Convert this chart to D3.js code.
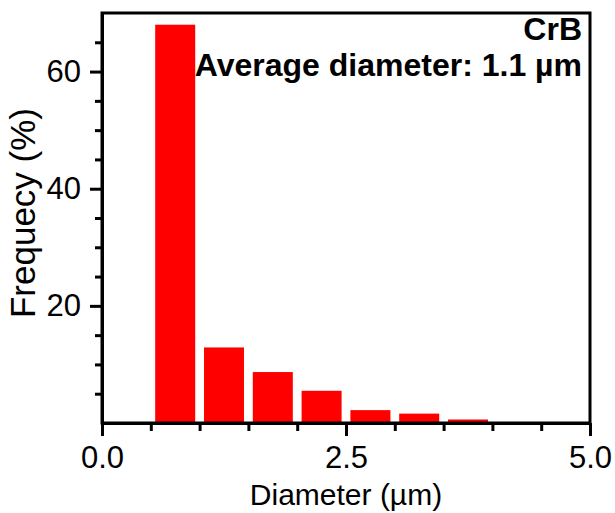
<!DOCTYPE html>
<html lang="en">
<head>
    <meta charset='utf-8'>
    <title>CrB diameter histogram</title>
    <style>
        body{
            margin: 0;
            background: #fff;
        }
        text {
            font-family: "Liberation Sans", Arial, sans-serif;
            fill: #000;
        }
    </style>
</head>
<body>
<div id="chart"></div>
<script src='https://cdn.jsdelivr.net/npm/d3@7/dist/d3.min.js'></script>
<script>
    // histogram data
    var binCenters = [0.75, 1.25, 1.75, 2.25, 2.75, 3.25, 3.75];
    var frequency = [68, 12.9, 8.7, 5.5, 2.2, 1.6, 0.6];
    var xTicks = [0, 2.5, 5];
    var xMinor = [0.5, 1, 1.5, 2, 3, 3.5, 4, 4.5];
    var yTicks = [20, 40, 60];
    var yMinor = [5, 10, 15, 25, 30, 35, 45, 50, 55, 65];
    var noteLines = ["CrB", "Average diameter: 1.1 \u00b5m"];

    var width = 615, height = 513;
    var margin = {left: 102, right: 25, top: 13, bottom: 90};
    var binWidth = 0.5, barFill = 0.82;

    var svg = d3.select("#chart").append("svg")
        .attr("width", width).attr("height", height);

    var x = d3.scaleLinear().domain([0, 5])
        .range([margin.left, width - margin.right]);
    var y = d3.scaleLinear().domain([0, 70])
        .range([height - margin.bottom, margin.top]);

    var data = binCenters.map(function(c, i) {
        return {c: c, f: frequency[i]};
    });

    // bars
    svg.selectAll("rect.bar")
        .data(data).enter()
        .append("rect")
        .attr("class", "bar")
        .attr("x", function(d) { return x(d.c - binWidth * barFill / 2); })
        .attr("width", function(d) { return x(d.c + binWidth * barFill / 2) - x(d.c - binWidth * barFill / 2); })
        .attr("y", function(d) { return y(d.f); })
        .attr("height", function(d) { return y(0) - y(d.f); })
        .attr("fill", "#ff0000");

    // frame
    svg.append("rect")
        .attr("x", x(0)).attr("y", y(70))
        .attr("width", x(5) - x(0)).attr("height", y(0) - y(70))
        .attr("fill", "none").attr("stroke", "#000").attr("stroke-width", 3);

    // x axis
    var gx = svg.append("g").attr("transform", "translate(0," + y(0) + ")");
    gx.call(d3.axisBottom(x).tickValues(xTicks).tickFormat(d3.format(".1f"))
        .tickSize(13).tickSizeOuter(0).tickPadding(10));
    var gxm = svg.append("g").attr("transform", "translate(0," + y(0) + ")");
    gxm.call(d3.axisBottom(x).tickValues(xMinor).tickFormat("")
        .tickSize(8).tickSizeOuter(0));

    // y axis
    var gy = svg.append("g").attr("transform", "translate(" + x(0) + ",0)");
    gy.call(d3.axisLeft(y).tickValues(yTicks)
        .tickSize(12).tickSizeOuter(0).tickPadding(9));
    var gym = svg.append("g").attr("transform", "translate(" + x(0) + ",0)");
    gym.call(d3.axisLeft(y).tickValues(yMinor).tickFormat("")
        .tickSize(7).tickSizeOuter(0));

    svg.selectAll(".domain").attr("stroke-width", 3);
    svg.selectAll(".tick line").attr("stroke-width", 3);
    svg.selectAll(".tick text")
        .style("font-family", '"Liberation Sans", Arial, sans-serif')
        .style("font-size", "31px")
        .attr("fill", "#000");

    // axis titles
    svg.append("text")
        .attr("x", (x(0) + x(5)) / 2).attr("y", 505)
        .style("text-anchor", "middle")
        .style("font-size", "30px")
        .text("Diameter (\u00b5m)");

    svg.append("text")
        .attr("transform", "translate(35," + 213 + ") rotate(-90)")
        .style("text-anchor", "middle")
        .style("font-size", "35px")
        .text("Frequecy (%)");

    // annotation lines, top right
    svg.selectAll("text.note")
        .data(noteLines).enter()
        .append("text")
        .attr("class", "note")
        .attr("x", 582)
        .attr("y", function(d, i) { return 40 + i * 36; })
        .style("text-anchor", "end")
        .style("font-weight", "bold")
        .style("font-size", "32px")
        .text(function(d) { return d; });
</script>
</body>
</html>
